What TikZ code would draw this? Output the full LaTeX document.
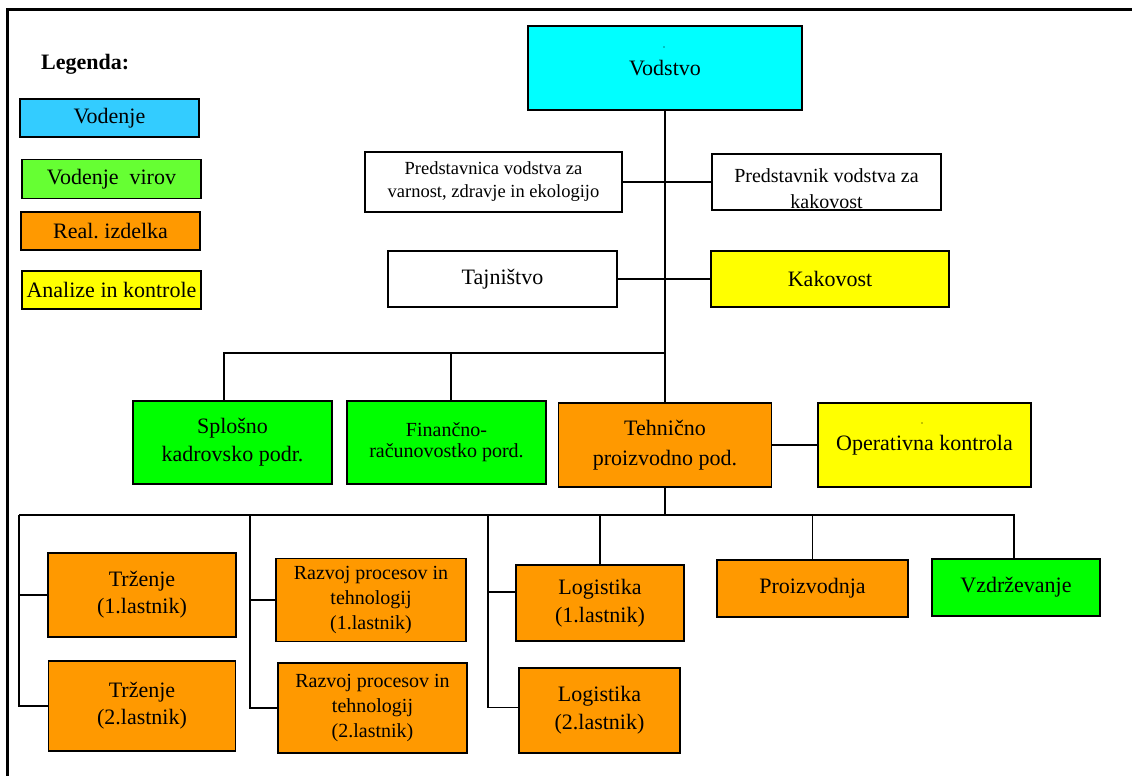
\documentclass[tikz,border=0pt]{standalone}
\usepackage{fontspec}
\setmainfont{Liberation Serif}
\usetikzlibrary{calc}

\definecolor{headcyan}{HTML}{00FFFF}
\definecolor{legblue}{HTML}{33CCFF}
\definecolor{leggreen}{HTML}{66FF33}
\definecolor{unitgreen}{HTML}{00FF00}
\definecolor{unitorange}{HTML}{FF9900}
\definecolor{unityellow}{HTML}{FFFF00}

\begin{document}
\begin{tikzpicture}[x=1pt,y=-1pt,
  box/.style={draw=black, line width=1.8pt, align=center, inner sep=0pt,
              font=\fontsize{22}{27}\selectfont},
  small/.style={font=\fontsize{20}{25}\selectfont},
  wire/.style={draw=black, line width=1.3pt},
  frame/.style={draw=black, line width=3pt}]
\useasboundingbox (0,0) rectangle (1132,776);

% outer frame (top and left edges)
\draw[frame] (1132,10) -- (7,10) -- (7,776);

% legend
\node[font=\bfseries\fontsize{22}{26}\selectfont, anchor=base west, inner sep=0pt] (leg) at (41,70) {Legenda:};
\node[box, fill=legblue,    minimum width=179, minimum height=38] (lg1) at (109.5,118) {Vodenje};
\node[box, fill=leggreen,   minimum width=179, minimum height=39] (lg2) at (111.5,179) {Vodenje\ \ virov};
\node[box, fill=unitorange, minimum width=179, minimum height=38] (lg3) at (110.5,231) {Real.\ izdelka};
\node[box, fill=unityellow, minimum width=179, minimum height=38] (lg4) at (111.5,290) {Analize in kontrole};

% management level
\node[box, fill=headcyan, minimum width=274, minimum height=84] (vod) at (665,68) {Vodstvo};
\fill (664,47) circle (0.7pt);

\node[box, fill=white, minimum width=257, minimum height=60,
      font=\fontsize{18.5}{23}\selectfont] (pw) at (493.5,182)
      {Predstavnica vodstva za\\varnost, zdravje in ekologijo};
\node[box, fill=white, minimum width=229, minimum height=56,
      label={[align=center, yshift=-7pt, font=\fontsize{20}{26}\selectfont]center:Predstavnik vodstva za\\kakovost}] (pm) at (826.5,182) {};

\node[box, fill=white,      minimum width=229, minimum height=56] (taj) at (502.5,279) {Tajništvo};
\node[box, fill=unityellow, minimum width=238, minimum height=56] (kak) at (830,279) {Kakovost};

% departments
\node[box, fill=unitgreen, minimum width=199, minimum height=83,
      font=\fontsize{22}{28}\selectfont] (spl) at (232.5,442.5) {Splošno\\kadrovsko podr.};
\node[box, fill=unitgreen, minimum width=199, minimum height=83,
      font=\fontsize{20}{21}\selectfont] (fin) at (446.5,442.5) {Finančno-\\računovostko pord.};
\node[box, fill=unitorange, minimum width=213, minimum height=84,
      font=\fontsize{22}{30}\selectfont] (teh) at (665,445) {Tehnično\\proizvodno pod.};
\node[box, fill=unityellow, minimum width=213, minimum height=84] (op) at (924.5,445) {Operativna kontrola};
\fill (922,423) circle (0.6pt);

% technical units
\node[box, fill=unitorange, minimum width=188, minimum height=84] (tr1) at (142,595) {Trženje\\(1.lastnik)};
\node[box, fill=unitorange, minimum width=187, minimum height=90] (tr2) at (142,706) {Trženje\\(2.lastnik)};
\node[box, fill=unitorange, minimum width=190, minimum height=83, small] (rz1) at (371,600) {Razvoj procesov in\\tehnologij\\(1.lastnik)};
\node[box, fill=unitorange, minimum width=189, minimum height=90, small] (rz2) at (372.5,708) {Razvoj procesov in\\tehnologij\\(2.lastnik)};
\node[box, fill=unitorange, minimum width=168, minimum height=76,
      font=\fontsize{22}{28}\selectfont] (lo1) at (600,603) {Logistika\\(1.lastnik)};
\node[box, fill=unitorange, minimum width=161, minimum height=85,
      font=\fontsize{22}{28}\selectfont] (lo2) at (599.5,710.5) {Logistika\\(2.lastnik)};
\node[box, fill=unitorange, minimum width=191, minimum height=57] (pro) at (812.5,588.5) {Proizvodnja};
\node[box, fill=unitgreen,  minimum width=168, minimum height=57] (vzd) at (1016,587.5) {Vzdrževanje};

% connectors: upper part
\coordinate (j1) at (665,353);
\draw[wire] (vod.south) -- (teh.north);
\draw[wire] (pw.east) -- (pm.west);
\draw[wire] (taj.east) -- (kak.west);
\draw[wire] ([xshift=-8.5pt]spl.north) |- (j1);
\draw[wire] ([xshift=4.5pt]fin.north) -- ([xshift=4.5pt]fin.north |- j1);
\draw[wire] (teh.east) -- (op.west |- teh.east);

% connectors: lower bus
\coordinate (bus) at (19,515);
\coordinate (b2) at (250,515);
\coordinate (b3) at (488,515);
\draw[wire] (teh.south) -- (teh.south |- bus);
\draw[wire] (bus) -- ([xshift=-2pt]vzd.north |- bus) -- ([xshift=-2pt]vzd.north);
\draw[wire] (bus) |- (tr2.west);
\draw[wire] (tr1.west) -- (tr1.west -| bus);
\draw[wire] (b2) |- (rz2.west);
\draw[wire] (rz1.west) -- (rz1.west -| b2);
\draw[wire] (b3) |- ([yshift=3pt]lo2.west);
\draw[wire] ([yshift=11pt]lo1.west) -- ([yshift=11pt]lo1.west -| b3);
\draw[wire] (lo1.north) -- (lo1.north |- bus);
\draw[wire] (pro.north) -- (pro.north |- bus);
\end{tikzpicture}
\end{document}
